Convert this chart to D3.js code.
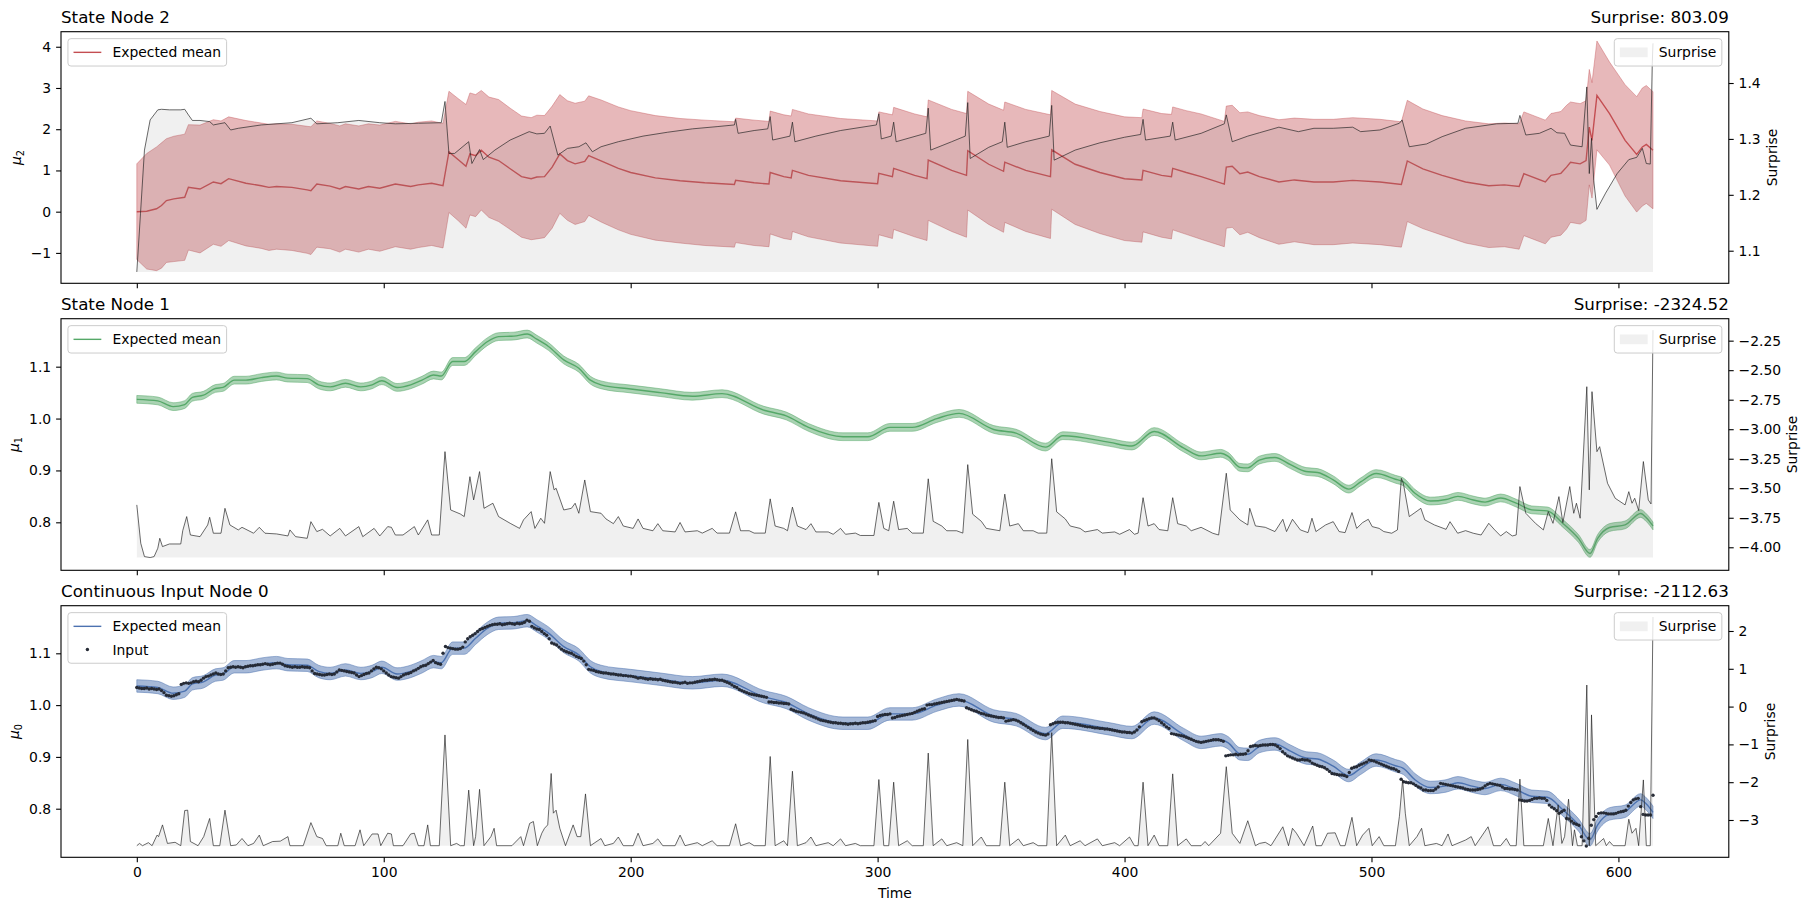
<!DOCTYPE html>
<html>
<head>
<meta charset="utf-8">
<script src="https://cdn.jsdelivr.net/npm/d3@7/dist/d3.min.js"></script>
<style>
  body { margin: 0; background: #fff; }
  text { font-family: "DejaVu Sans", sans-serif; fill: #000; }
</style>
</head>
<body>
<svg id="chart" width="1811" height="911"></svg>
<script>
//
// Data
//

// time axis
const TIME_TICKS = [0, 100, 200, 300, 400, 500, 600];
const TIME_END = 614;

// State Node 2: [time, expected mean, sd]
const node2Belief = [
  [0, 0.00, 1.16], [4, 0.01, 1.40], [8, 0.07, 1.50], [10, 0.15, 1.52], [12, 0.27, 1.50],
  [15, 0.31, 1.52], [19.4, 0.35, 1.53], [20.9, 0.59, 1.52], [25.6, 0.55, 1.55], [31, 0.72, 1.51],
  [34.1, 0.68, 1.52], [37.2, 0.80, 1.50], [44.2, 0.69, 1.52], [50.4, 0.63, 1.52], [53.5, 0.59, 1.53],
  [56.6, 0.61, 1.52], [62.8, 0.59, 1.53], [69, 0.53, 1.54], [70.5, 0.51, 1.55], [72.9, 0.67, 1.53],
  [78.3, 0.62, 1.52], [82.2, 0.55, 1.53], [84.5, 0.61, 1.52], [89.9, 0.55, 1.53], [93.8, 0.61, 1.52],
  [98.4, 0.57, 1.53], [104.7, 0.67, 1.52], [110.9, 0.61, 1.52], [114, 0.65, 1.52], [119.4, 0.69, 1.51],
  [124, 0.63, 1.51], [126.4, 1.45, 1.47], [130.2, 1.26, 1.48], [133.3, 1.10, 1.50], [134.9, 1.40, 1.48],
  [137.2, 1.36, 1.48], [139.5, 1.49, 1.45], [142.6, 1.32, 1.46], [146.5, 1.24, 1.48], [151.2, 1.04, 1.47],
  [155.8, 0.85, 1.47], [159.7, 0.80, 1.48], [162, 0.84, 1.50], [165.1, 0.85, 1.48], [168.2, 1.08, 1.48],
  [171.3, 1.40, 1.44], [174.4, 1.24, 1.45], [177.5, 1.16, 1.47], [181.4, 1.22, 1.46], [183, 1.36, 1.45],
  [188, 1.23, 1.48], [195, 1.05, 1.49], [200, 0.95, 1.50], [210, 0.82, 1.51], [220, 0.75, 1.51],
  [230, 0.70, 1.52], [242, 0.66, 1.52], [242.5, 0.76, 1.51], [250, 0.70, 1.52], [256, 0.67, 1.52],
  [256.5, 0.95, 1.49], [262, 0.85, 1.50], [265, 0.82, 1.50], [265.5, 1.00, 1.48], [272, 0.88, 1.49],
  [285, 0.75, 1.51], [300, 0.68, 1.52], [300.5, 0.93, 1.49], [306, 0.85, 1.50], [306.5, 1.05, 1.48],
  [315, 0.88, 1.49], [320, 0.80, 1.50], [320.5, 1.25, 1.46], [330, 1.00, 1.48], [336, 0.88, 1.50],
  [336.5, 1.48, 1.44], [345, 1.15, 1.46], [351, 0.98, 1.48], [351.5, 1.20, 1.46], [360, 1.00, 1.48],
  [370, 0.85, 1.50], [370.5, 1.50, 1.44], [380, 1.15, 1.46], [390, 0.95, 1.48], [400, 0.80, 1.50],
  [407, 0.77, 1.51], [407.5, 1.00, 1.49], [415, 0.88, 1.50], [419, 0.85, 1.51], [419.5, 1.05, 1.49],
  [425, 0.95, 1.50], [431, 0.85, 1.52], [440.4, 0.67, 1.52],
  [441.2, 1.08, 1.48], [443.6, 1.10, 1.48], [446.7, 0.92, 1.48], [449.9, 0.96, 1.46], [454.6, 0.85, 1.48],
  [462.5, 0.72, 1.51], [468.8, 0.77, 1.50], [476.7, 0.72, 1.52], [484.5, 0.72, 1.52], [492.4, 0.76, 1.52],
  [503.4, 0.72, 1.52], [512.1, 0.66, 1.52], [514.5, 1.23, 1.47], [520.8, 1.04, 1.45], [528.6, 0.88, 1.45],
  [538.1, 0.72, 1.48], [547.5, 0.63, 1.50], [553.8, 0.65, 1.50], [559.8, 0.61, 1.52], [561.7, 0.92, 1.50],
  [570.4, 0.72, 1.50], [572.7, 0.88, 1.50], [576.7, 0.93, 1.50], [579, 1.08, 1.50], [580.6, 1.20, 1.46],
  [584.5, 1.16, 1.46], [586.9, 1.24, 1.45], [588.2, 2.05, 1.40], [589.3, 1.73, 1.40], [591.3, 2.82, 1.32],
  [596.4, 2.38, 1.25], [602.7, 1.73, 1.35], [607.4, 1.39, 1.40], [609.7, 1.57, 1.43], [611.3, 1.63, 1.43],
  [614, 1.49, 1.42]
];

// State Node 2: [time, surprise]
const node2Surprise = [
  [0, 1.062], [1.5, 1.167], [3.1, 1.28], [5.4, 1.334], [8.5, 1.352], [10, 1.353], [13.2, 1.352],
  [17.8, 1.352], [19.4, 1.353], [20.9, 1.343], [22.5, 1.333], [25.6, 1.333], [29.5, 1.331], [31, 1.325],
  [33.3, 1.327], [35.7, 1.329], [38, 1.316], [41.1, 1.319], [50.4, 1.325], [62.8, 1.329], [70.5, 1.337],
  [72.9, 1.327], [81.4, 1.329], [89.9, 1.333], [98.4, 1.329], [104.7, 1.327], [114, 1.328], [123.3, 1.329],
  [124.8, 1.367], [126.4, 1.274], [128.7, 1.274], [134.4, 1.295], [135.7, 1.256], [138.8, 1.281],
  [140.3, 1.263], [145, 1.28], [151.2, 1.298], [158.9, 1.313], [162, 1.309], [165.1, 1.31], [167.4, 1.323],
  [170.5, 1.271], [174.4, 1.283], [179, 1.286], [181.9, 1.293], [184.5, 1.277], [188, 1.286],
  [195, 1.295], [205, 1.305], [215, 1.312], [225, 1.318], [235, 1.322], [242, 1.325], [242.5, 1.335],
  [243.5, 1.31], [250, 1.315], [255.5, 1.318], [256.5, 1.34], [257.5, 1.298], [264.5, 1.305],
  [265.5, 1.33], [266.5, 1.295], [275, 1.305], [285, 1.315], [299.5, 1.325], [300.5, 1.345],
  [301.5, 1.30], [305.5, 1.305], [306.5, 1.33], [307.5, 1.295], [319.5, 1.31], [320.5, 1.355],
  [321.5, 1.28], [330, 1.295], [335.5, 1.305], [336.5, 1.365], [337.5, 1.265], [345, 1.285],
  [350.5, 1.295], [351.5, 1.33], [352.5, 1.285], [360, 1.295], [369.5, 1.305], [370.5, 1.36],
  [371.5, 1.262], [380, 1.28], [390, 1.293], [400, 1.303], [406.5, 1.308], [407.5, 1.335],
  [408.5, 1.298], [418.5, 1.305], [419.5, 1.33], [420.5, 1.298], [431, 1.31], [440.4, 1.327],
  [441.2, 1.343], [443.6, 1.295], [449.9, 1.305], [454.6, 1.311], [462.5, 1.321], [470.4, 1.313],
  [476.7, 1.319], [484.5, 1.319], [492.4, 1.321], [495.6, 1.313], [503.4, 1.316], [511.3, 1.328],
  [512.4, 1.334], [515.3, 1.286], [522.3, 1.291], [528.6, 1.304], [538.1, 1.319], [550.7, 1.327],
  [559.3, 1.328], [560.1, 1.342], [562.5, 1.307], [568, 1.31], [572.7, 1.319], [575.1, 1.311],
  [578.2, 1.31], [580.6, 1.289], [585.3, 1.286], [587.2, 1.393], [588.2, 1.238], [589.1, 1.301],
  [590, 1.226], [591.3, 1.174], [594.8, 1.203], [599.5, 1.238], [604.2, 1.263], [607.4, 1.267],
  [609.7, 1.283], [611.3, 1.256], [612.9, 1.255], [613.7, 1.435], [614, 1.471]
];

// State Node 1 / Input Node 0 expected mean: [time, mean]
const stateMean = [
  [0, 1.037], [8.5, 1.034], [14.7, 1.023], [19.4, 1.027], [22.5, 1.041], [27, 1.045], [31.8, 1.058],
  [34.9, 1.060], [39.5, 1.074], [44.2, 1.074], [50.4, 1.079], [56.6, 1.082], [61.2, 1.078], [69, 1.077],
  [73.6, 1.065], [78.3, 1.061], [84.5, 1.068], [90.7, 1.061], [95.3, 1.065], [99.2, 1.073], [105.4, 1.060],
  [110.9, 1.065], [115.5, 1.074], [120.2, 1.084], [123.3, 1.082], [127.9, 1.110], [132.6, 1.110],
  [137.2, 1.129], [141.9, 1.148], [146.5, 1.158], [152.7, 1.159], [158.1, 1.163], [162, 1.153],
  [166.7, 1.139], [172.9, 1.113], [179, 1.097], [183.7, 1.074], [188, 1.065], [200, 1.057], [212, 1.050],
  [225, 1.043], [237, 1.048], [254, 1.016], [263, 1.005], [272, 0.983], [286, 0.965], [296, 0.965],
  [305, 0.983], [314, 0.983], [324, 1.000], [333, 1.010], [347, 0.979], [356, 0.972], [368, 0.945],
  [375, 0.967], [394, 0.954], [403, 0.947], [412, 0.975], [424, 0.943], [431, 0.928], [438.9, 0.933],
  [442, 0.927], [446.7, 0.906], [449.9, 0.905], [454.6, 0.920], [460.9, 0.925], [467.2, 0.911],
  [473.5, 0.898], [478.2, 0.896], [484.5, 0.882], [490.8, 0.864], [495.6, 0.878], [501.9, 0.894],
  [509.7, 0.883], [512.9, 0.878], [517.6, 0.856], [523.9, 0.841], [530.2, 0.844], [535, 0.850],
  [541.2, 0.843], [546, 0.839], [552.3, 0.847], [558.6, 0.837], [564.9, 0.824], [571.2, 0.822],
  [577.5, 0.798], [583.8, 0.769], [588.5, 0.740], [591.6, 0.769], [596.4, 0.790], [602.7, 0.795],
  [609, 0.817], [611.3, 0.809], [614, 0.793]
];
const NODE1_SD = 0.0075;
const NODE0_SD = 0.012;

// Continuous Input Node 0: observed input, one value per time step (0..614)
const inputValues = [
  1.034, 1.033, 1.032, 1.032, 1.033, 1.031, 1.032, 1.031, 1.030, 1.031,
  1.028, 1.024, 1.019, 1.018, 1.017, 1.018, 1.020, 1.022, 1.040, 1.042,
  1.043, 1.042, 1.043, 1.045, 1.046, 1.045, 1.048, 1.052, 1.055, 1.056,
  1.058, 1.060, 1.062, 1.060, 1.059, 1.060, 1.066, 1.072, 1.073, 1.074,
  1.073, 1.074, 1.073, 1.072, 1.074, 1.075, 1.076, 1.076, 1.077, 1.078,
  1.078, 1.079, 1.080, 1.079, 1.078, 1.079, 1.080, 1.081, 1.081, 1.079,
  1.076, 1.075, 1.074, 1.073, 1.074, 1.073, 1.073, 1.074, 1.073, 1.073,
  1.072, 1.066, 1.061, 1.060, 1.059, 1.058, 1.058, 1.059, 1.060, 1.059,
  1.060, 1.064, 1.068, 1.067, 1.066, 1.065, 1.064, 1.063, 1.062, 1.058,
  1.055, 1.057, 1.059, 1.061, 1.062, 1.066, 1.070, 1.073, 1.072, 1.070,
  1.066, 1.062, 1.058, 1.055, 1.054, 1.053, 1.052, 1.055, 1.058, 1.060,
  1.061, 1.063, 1.066, 1.068, 1.071, 1.074, 1.076, 1.077, 1.080, 1.083,
  1.086, 1.082, 1.080, 1.079, 1.100, 1.113, 1.111, 1.110, 1.109, 1.108,
  1.108, 1.109, 1.112, 1.122, 1.128, 1.132, 1.135, 1.138, 1.142, 1.146,
  1.148, 1.150, 1.152, 1.154, 1.155, 1.156, 1.156, 1.157, 1.155, 1.156,
  1.157, 1.158, 1.157, 1.156, 1.158, 1.157, 1.158, 1.160, 1.164, 1.162,
  1.152, 1.149, 1.147, 1.146, 1.142, 1.138, 1.135, 1.128, 1.120, 1.118,
  1.116, 1.112, 1.108, 1.105, 1.103, 1.101, 1.100, 1.097, 1.094, 1.092,
  1.090, 1.085, 1.078, 1.069, 1.068, 1.067, 1.065, 1.064, 1.063, 1.062,
  1.062, 1.061, 1.060, 1.060, 1.059, 1.058, 1.058, 1.057, 1.057, 1.056,
  1.056, 1.055, 1.054, 1.052, 1.053, 1.052, 1.051, 1.050, 1.051, 1.050,
  1.050, 1.049, 1.050, 1.048, 1.047, 1.046, 1.045, 1.044, 1.044, 1.043,
  1.042, 1.043, 1.044, 1.042, 1.043, 1.043, 1.044, 1.045, 1.046, 1.047,
  1.048, 1.048, 1.049, 1.049, 1.050, 1.049, 1.048, 1.048, 1.046, 1.044,
  1.042, 1.039, 1.036, 1.034, 1.030, 1.028, 1.026, 1.024, 1.022, 1.021,
  1.020, 1.019, 1.018, 1.017, 1.016, 1.015, 1.006, 1.006, 1.005, 1.005,
  1.004, 1.004, 1.003, 1.003, 1.002, 0.992, 0.990, 0.988, 0.987, 0.986,
  0.985, 0.983, 0.981, 0.979, 0.977, 0.975, 0.973, 0.971, 0.970, 0.969,
  0.968, 0.967, 0.966, 0.966, 0.965, 0.965, 0.964, 0.964, 0.963, 0.964,
  0.964, 0.965, 0.964, 0.965, 0.966, 0.966, 0.967, 0.968, 0.969, 0.970,
  0.978, 0.980, 0.981, 0.982, 0.982, 0.983, 0.975, 0.976, 0.978, 0.979,
  0.980, 0.981, 0.982, 0.983, 0.984, 0.986, 0.988, 0.990, 0.992, 0.993,
  1.000, 1.001, 1.001, 1.002, 1.003, 1.004, 1.005, 1.006, 1.007, 1.008,
  1.009, 1.010, 1.011, 1.010, 1.009, 1.008, 0.995, 0.993, 0.991, 0.989,
  0.988, 0.986, 0.984, 0.983, 0.981, 0.980, 0.979, 0.978, 0.977, 0.976,
  0.976, 0.975, 0.969, 0.970, 0.971, 0.972, 0.971, 0.969, 0.966, 0.963,
  0.960, 0.957, 0.954, 0.951, 0.948, 0.946, 0.944, 0.943, 0.942, 0.944,
  0.962, 0.964, 0.966, 0.967, 0.967, 0.967, 0.966, 0.966, 0.965, 0.964,
  0.963, 0.962, 0.961, 0.960, 0.959, 0.958, 0.958, 0.957, 0.956, 0.956,
  0.955, 0.955, 0.954, 0.954, 0.953, 0.952, 0.951, 0.950, 0.949, 0.948,
  0.948, 0.947, 0.947, 0.946, 0.948, 0.952, 0.958, 0.968, 0.970, 0.972,
  0.974, 0.975, 0.975, 0.973, 0.970, 0.966, 0.962, 0.958, 0.955, 0.945,
  0.944, 0.943, 0.942, 0.941, 0.940, 0.938, 0.936, 0.934, 0.932, 0.930,
  0.929, 0.928, 0.929, 0.930, 0.931, 0.932, 0.933, 0.933, 0.933, 0.932,
  0.930, 0.902, 0.903, 0.904, 0.904, 0.905, 0.904, 0.905, 0.905, 0.906,
  0.912, 0.920, 0.921, 0.922, 0.921, 0.922, 0.923, 0.923, 0.923, 0.924,
  0.924, 0.923, 0.920, 0.916, 0.910, 0.906, 0.902, 0.900, 0.898, 0.896,
  0.894, 0.894, 0.895, 0.894, 0.894, 0.892, 0.888, 0.886, 0.884, 0.882,
  0.881, 0.879, 0.876, 0.872, 0.868, 0.867, 0.866, 0.865, 0.865, 0.864,
  0.862, 0.870, 0.878, 0.880, 0.881, 0.884, 0.886, 0.888, 0.890, 0.894,
  0.893, 0.892, 0.890, 0.888, 0.886, 0.884, 0.882, 0.880, 0.878, 0.877,
  0.875, 0.872, 0.857, 0.852, 0.851, 0.850, 0.850, 0.848, 0.845, 0.842,
  0.840, 0.836, 0.836, 0.835, 0.835, 0.835, 0.838, 0.842, 0.849, 0.848,
  0.847, 0.846, 0.845, 0.844, 0.843, 0.842, 0.841, 0.840, 0.838, 0.837,
  0.836, 0.836, 0.836, 0.837, 0.838, 0.840, 0.844, 0.847, 0.849, 0.848,
  0.847, 0.846, 0.845, 0.842, 0.839, 0.839, 0.838, 0.838, 0.837, 0.836,
  0.817, 0.816, 0.815, 0.815, 0.816, 0.818, 0.820, 0.820, 0.821, 0.820,
  0.820, 0.816, 0.807, 0.803, 0.800, 0.796, 0.791, 0.794, 0.797, 0.781,
  0.780, 0.776, 0.772, 0.770, 0.768, 0.746, 0.738, 0.728, 0.743, 0.768,
  0.779, 0.785, 0.791, 0.792, 0.792, 0.791, 0.790, 0.790, 0.790, 0.791,
  0.793, 0.794, 0.795, 0.797, 0.805, 0.812, 0.817, 0.819, 0.820, 0.804,
  0.789, 0.788, 0.788, 0.788, 0.826
];

// State Node 1: [time, surprise]
const node1Surprise = [
  [0, -3.641], [1.6, -3.966], [3.1, -4.079], [5.4, -4.087], [7, -4.079], [8.5, -4.008], [9.3, -3.924],
  [10.4, -3.994], [13.2, -3.972], [17.8, -3.972], [18.6, -3.859], [20.2, -3.74], [21.7, -3.896],
  [25.6, -3.91], [28.7, -3.811], [29.5, -3.746], [31, -3.881], [34.1, -3.881], [35.7, -3.67],
  [37.7, -3.811], [41.1, -3.853], [42.6, -3.831], [47.3, -3.881], [49.6, -3.831], [51.9, -3.881],
  [56.6, -3.887], [61.2, -3.904], [62, -3.853], [64.3, -3.91], [69, -3.924], [70.5, -3.783],
  [72.9, -3.867], [75.2, -3.848], [78.3, -3.904], [82.2, -3.84], [84.5, -3.904], [89.9, -3.825],
  [91.5, -3.91], [96.1, -3.84], [98.4, -3.904], [101.6, -3.825], [103.1, -3.831], [104.7, -3.896],
  [107.8, -3.896], [112.4, -3.825], [114, -3.896], [117.8, -3.768], [119.4, -3.896], [122.5, -3.896],
  [124.8, -3.19], [127.1, -3.684], [131, -3.718], [132.6, -3.74], [134.9, -3.402], [136.4, -3.599],
  [138.8, -3.359], [140.6, -3.67], [144.2, -3.627], [146.5, -3.74], [151.2, -3.797], [155, -3.84],
  [156.6, -3.768], [159.7, -3.698], [161.2, -3.84], [163.6, -3.754], [165.1, -3.797], [167.4, -3.359],
  [169, -3.514], [169.8, -3.5], [172.9, -3.684], [176, -3.67], [177.5, -3.627], [179, -3.712],
  [181.4, -3.43], [183.7, -3.698], [188, -3.712], [190, -3.76], [193, -3.80], [195, -3.74], [197, -3.82],
  [201, -3.84], [203, -3.76], [205, -3.84], [209, -3.86], [211, -3.80], [213, -3.86], [218, -3.87],
  [220, -3.79], [222, -3.87], [227, -3.86], [229, -3.88], [233, -3.84], [235, -3.88], [240, -3.88],
  [242.5, -3.70], [244.5, -3.86], [248, -3.86], [250, -3.88], [254.5, -3.88], [256.5, -3.59],
  [258.5, -3.82], [262, -3.84], [263.5, -3.86], [265.5, -3.66], [267.5, -3.82], [271, -3.85],
  [273, -3.80], [275, -3.87], [280, -3.87], [282, -3.89], [285, -3.84], [287, -3.89], [291, -3.88],
  [293, -3.90], [298.5, -3.90], [300.5, -3.62], [302.5, -3.84], [304.5, -3.86], [306.5, -3.61],
  [308.5, -3.85], [312, -3.84], [314, -3.88], [318.5, -3.88], [320.5, -3.42], [322.5, -3.78],
  [326, -3.82], [328, -3.86], [332, -3.86], [334.5, -3.88], [336.5, -3.30], [338.5, -3.72],
  [342, -3.78], [344, -3.84], [349.5, -3.86], [351.5, -3.55], [353.5, -3.82], [357, -3.80],
  [359, -3.86], [363, -3.86], [365, -3.88], [368.5, -3.88], [370.5, -3.25], [372.5, -3.70],
  [376, -3.76], [378, -3.82], [382, -3.84], [384, -3.87], [389, -3.85], [391, -3.88], [396, -3.87],
  [398, -3.89], [402, -3.85], [404, -3.89], [405.5, -3.88], [407.5, -3.58], [409.5, -3.82],
  [412, -3.80], [414, -3.85], [417.5, -3.86], [419.5, -3.58], [421.5, -3.80], [425, -3.82],
  [427, -3.86], [431, -3.831], [435.7, -3.881], [438.1, -3.896], [441.2, -3.373], [442.8, -3.684], [446.7, -3.768],
  [449.9, -3.811], [450.7, -3.67], [453, -3.819], [457, -3.831], [460.9, -3.867], [464.1, -3.763],
  [465.6, -3.867], [468, -3.763], [471.2, -3.853], [474.3, -3.876], [475.9, -3.754], [477.5, -3.867],
  [481.4, -3.811], [484.5, -3.783], [486.9, -3.867], [489.3, -3.876], [492.1, -3.706], [494, -3.84],
  [496.4, -3.791], [498.7, -3.763], [500.3, -3.825], [503.1, -3.84], [505, -3.867], [508.2, -3.881],
  [510.5, -3.853], [512.1, -3.416], [512.9, -3.458], [515.3, -3.74], [517.6, -3.706], [520, -3.67],
  [521.6, -3.768], [525.5, -3.811], [530.2, -3.848], [531.8, -3.783], [534.9, -3.881], [538.1, -3.859],
  [541.2, -3.881], [544.4, -3.896], [547.5, -3.797], [549.9, -3.853], [552.3, -3.904], [554.6, -3.867],
  [557, -3.904], [558.6, -3.896], [560.1, -3.486], [562.5, -3.712], [566.4, -3.797], [569.6, -3.853],
  [571.6, -3.698], [573.5, -3.797], [575.9, -3.571], [577.5, -3.791], [580.3, -3.486], [581.9, -3.712],
  [583, -3.627], [584.5, -3.754], [587.2, -2.64], [588.2, -3.514], [589.3, -2.682], [591.3, -3.19],
  [592.4, -3.148], [595.6, -3.458], [598.7, -3.585], [602.7, -3.641], [604.2, -3.529], [605.5, -3.627],
  [606.6, -3.585], [608.2, -3.689], [610.1, -3.274], [612.1, -3.599], [613.2, -3.633], [614, -2.161]
];

// Continuous Input Node 0: [time, surprise]
const node0Surprise = [
  [0, -3.68], [1.1, -3.62], [2.3, -3.68], [4.7, -3.60], [6.2, -3.68], [8.2, -3.40], [8.8, -3.44],
  [10.4, -3.13], [12.4, -3.62], [15.5, -3.59], [17.8, -3.68], [19.4, -2.75], [20.6, -2.74], [21.7, -3.57],
  [24.8, -3.68], [27.1, -3.44], [29.5, -2.96], [31, -3.68], [33.6, -3.68], [35.7, -2.74], [38, -3.68],
  [40.3, -3.66], [42.6, -3.49], [45, -3.68], [47.3, -3.62], [49.6, -3.40], [51.2, -3.68], [55, -3.57],
  [58.1, -3.56], [61.2, -3.44], [62, -3.68], [67.4, -3.68], [70.5, -3.07], [72.9, -3.44], [75.2, -3.49],
  [76.7, -3.68], [81.4, -3.68], [82.6, -3.35], [84, -3.68], [88.4, -3.68], [90.4, -3.26], [91.9, -3.68],
  [95.3, -3.37], [97.7, -3.37], [98.8, -3.68], [101.6, -3.35], [103.1, -3.37], [103.9, -3.68],
  [107.8, -3.68], [110.9, -3.37], [112.4, -3.35], [114, -3.68], [116.3, -3.68], [117.8, -3.13],
  [118.9, -3.68], [122.5, -3.68], [124.8, -0.75], [127.1, -3.68], [129.5, -3.62], [131, -3.68],
  [132.6, -3.68], [134.4, -2.21], [136.4, -3.68], [137.2, -3.44], [138.8, -2.19], [140.6, -3.68],
  [143.4, -3.44], [144.7, -3.22], [145.7, -3.68], [151.9, -3.68], [155.5, -3.44], [156.6, -3.68],
  [159.1, -3.09], [160.6, -3.04], [162.2, -3.68], [164, -3.35], [165.1, -3.22], [166.4, -3.13],
  [167.8, -1.77], [168.7, -2.82], [169.8, -2.74], [171.3, -3.22], [173.6, -3.68], [176.7, -3.13],
  [178.3, -3.44], [179.8, -3.44], [181.7, -2.31], [183.7, -3.68], [188, -3.49], [189.5, -3.68],
  [193, -3.62], [195, -3.45], [197, -3.68], [201, -3.68], [203, -3.35], [205, -3.68], [209, -3.62],
  [211, -3.50], [213, -3.68], [218, -3.68], [220, -3.40], [222, -3.68], [227, -3.60], [229, -3.68],
  [233, -3.55], [235, -3.68], [240, -3.68], [242.5, -3.10], [244.5, -3.68], [248, -3.60], [250, -3.68],
  [254.5, -3.68], [256.5, -1.32], [258.5, -3.68], [262, -3.55], [263.5, -3.68], [265.5, -1.71],
  [267.5, -3.68], [271, -3.60], [273, -3.45], [275, -3.68], [280, -3.60], [282, -3.68], [285, -3.50],
  [287, -3.68], [291, -3.62], [293, -3.68], [298.5, -3.68], [300.5, -1.93], [302.5, -3.68],
  [304.5, -3.68], [306.5, -2.00], [308.5, -3.68], [312, -3.55], [314, -3.68], [318.5, -3.68],
  [320.5, -1.23], [322.5, -3.68], [326, -3.50], [328, -3.68], [332, -3.60], [334.5, -3.68],
  [336.5, -0.87], [338.5, -3.68], [342, -3.45], [344, -3.68], [349.5, -3.68], [351.5, -2.00],
  [353.5, -3.68], [357, -3.50], [359, -3.68], [363, -3.60], [365, -3.68], [368.5, -3.68],
  [370.5, -0.69], [372.5, -3.68], [376, -3.40], [378, -3.68], [382, -3.55], [384, -3.68], [389, -3.50],
  [391, -3.68], [396, -3.60], [398, -3.68], [402, -3.45], [404, -3.68], [405.5, -3.68], [407.5, -2.00],
  [409.5, -3.68], [412, -3.40], [414, -3.68], [417.5, -3.68], [419.5, -1.78], [421.5, -3.68],
  [425, -3.50], [427, -3.68], [431, -3.68], [432.6, -3.57], [434.1, -3.68], [438.9, -3.35], [441.2, -1.59],
  [443.6, -3.35], [446.7, -3.62], [449.9, -3.02], [453, -3.68], [454.6, -3.62], [457, -3.59],
  [459.3, -3.68], [464.1, -3.18], [466.4, -3.68], [468, -3.22], [469.6, -3.35], [472.7, -3.68],
  [476.2, -3.16], [477.5, -3.68], [479.8, -3.68], [482.2, -3.35], [485.3, -3.34], [487.4, -3.68],
  [489.3, -3.68], [492.1, -2.93], [494, -3.68], [496.4, -3.40], [499, -3.22], [500.3, -3.68],
  [503.1, -3.44], [505, -3.68], [509.7, -3.68], [511.3, -2.91], [512.6, -1.94], [513.7, -2.82],
  [515.3, -3.68], [518.4, -3.44], [520.3, -3.22], [521.6, -3.68], [526.3, -3.62], [528.6, -3.68],
  [531, -3.37], [532.6, -3.68], [538.1, -3.53], [540.4, -3.44], [542, -3.68], [547.2, -3.18],
  [549.4, -3.68], [552.3, -3.68], [554.6, -3.49], [556.2, -3.68], [558.6, -3.68], [560.1, -1.92],
  [561.7, -3.68], [569.6, -3.68], [571.6, -2.96], [573.5, -3.68], [575.6, -2.60], [577.1, -3.62],
  [578.2, -3.44], [579.8, -2.45], [581.4, -3.68], [582.2, -3.26], [583.4, -3.68], [585.3, -3.68],
  [587.2, 0.57], [588.2, -3.68], [589.1, -0.22], [590.8, -3.68], [594, -3.49], [595.1, -3.68],
  [596.4, -3.57], [597.9, -3.68], [602.7, -3.68], [604.2, -2.98], [605.5, -3.35], [607.1, -3.22],
  [608.2, -3.68], [610.1, -1.94], [611.3, -3.68], [612.9, -3.68], [614, 2.37]
];

// axis ticks
const NODE2_TICKS = [-1, 0, 1, 2, 3, 4];
const NODE2_SURPRISE_TICKS = [1.1, 1.2, 1.3, 1.4];
const NODE1_TICKS = [0.8, 0.9, 1.0, 1.1];
const NODE1_SURPRISE_TICKS = [-4.0, -3.75, -3.5, -3.25, -3.0, -2.75, -2.5, -2.25];
const NODE0_TICKS = [0.8, 0.9, 1.0, 1.1];
const NODE0_SURPRISE_TICKS = [-3, -2, -1, 0, 1, 2];

//
// Layout
//

const svg = d3.select('#chart');

const AX_LEFT = 61;
const AX_RIGHT = 1728.8;
const PANEL_TOPS = [31.7, 318.7, 605.7];
const PANEL_HEIGHT = 251.6;

const FS_TICK = 13.9;
const FS_TITLE = 16.7;
const TICK_LEN = 4.9;
const TICK_PAD = 4.9;

const DOT_R = 1.7;
const DOT_COLOR = '#262b36';

const minus = (s) => s.replace(/-/g, '\u2212');

const x = d3
  .scaleLinear()
  .domain([-0.05 * TIME_END, TIME_END * 1.05])
  .range([AX_LEFT, AX_RIGHT]);

const panels = [
  {
    title: 'State Node 2',
    surpriseTitle: 'Surprise: 803.09',
    sub: '2',
    yDomain: [-1.737, 4.365],
    sDomain: [1.0417, 1.4918],
    yTicks: NODE2_TICKS,
    sTicks: NODE2_SURPRISE_TICKS,
    yFmt: (d) => minus(d3.format('d')(d)),
    sFmt: (d) => d3.format('.1f')(d),
    color: '#c44e52',
    bandOpacity: 0.4,
    band: node2Belief.map((r) => ({ t: r[0], m: r[1], lo: r[1] - r[2], hi: r[1] + r[2] })),
    curve: d3.curveLinear,
    surprise: node2Surprise,
    input: null,
  },
  {
    title: 'State Node 1',
    surpriseTitle: 'Surprise: -2324.52',
    sub: '1',
    yDomain: [0.7075, 1.1925],
    sDomain: [-4.195, -2.064],
    yTicks: NODE1_TICKS,
    sTicks: NODE1_SURPRISE_TICKS,
    yFmt: (d) => d3.format('.1f')(d),
    sFmt: (d) => minus(d3.format('.2f')(d)),
    color: '#55a868',
    bandOpacity: 0.5,
    band: stateMean.map((r) => ({ t: r[0], m: r[1], lo: r[1] - NODE1_SD, hi: r[1] + NODE1_SD })),
    curve: d3.curveMonotoneX,
    surprise: node1Surprise,
    input: null,
  },
  {
    title: 'Continuous Input Node 0',
    surpriseTitle: 'Surprise: -2112.63',
    sub: '0',
    yDomain: [0.7062, 1.1919],
    sDomain: [-3.987, 2.669],
    yTicks: NODE0_TICKS,
    sTicks: NODE0_SURPRISE_TICKS,
    yFmt: (d) => d3.format('.1f')(d),
    sFmt: (d) => minus(d3.format('d')(d)),
    color: '#4c72b0',
    bandOpacity: 0.5,
    band: stateMean.map((r) => ({ t: r[0], m: r[1], lo: r[1] - NODE0_SD, hi: r[1] + NODE0_SD })),
    curve: d3.curveMonotoneX,
    surprise: node0Surprise,
    input: inputValues,
  },
];

//
// Legend helper (matplotlib-like box)
//

function drawLegend(g, items, side, top) {
  const fs = 13.9;
  const pad = 0.4 * fs;
  const handleLen = 2 * fs;
  const handleGap = 0.8 * fs;
  const rowGap = 0.5 * fs;
  const rowH = fs * 1.17;
  const axPad = 0.5 * fs;

  const lg = g.append('g');
  const box = lg.append('rect');

  const labels = items.map((it) =>
    lg.append('text').attr('font-size', fs).attr('dy', '0.36em').text(it.label),
  );
  const textW = d3.max(labels, (l) => l.node().getComputedTextLength());

  const w = pad * 2 + handleLen + handleGap + textW;
  const h = pad * 2 + items.length * rowH + (items.length - 1) * rowGap;
  const x0 = side === 'left' ? AX_LEFT + axPad : AX_RIGHT - axPad - w;
  const y0 = top + axPad;

  box
    .attr('x', x0)
    .attr('y', y0)
    .attr('width', w)
    .attr('height', h)
    .attr('rx', 3)
    .attr('fill', '#fff')
    .attr('fill-opacity', 0.8)
    .attr('stroke', '#cccccc')
    .attr('stroke-width', 1);

  items.forEach((it, i) => {
    const cy = y0 + pad + i * (rowH + rowGap) + rowH / 2;
    const hx = x0 + pad;
    if (it.kind === 'line') {
      lg.append('line')
        .attr('x1', hx)
        .attr('x2', hx + handleLen)
        .attr('y1', cy)
        .attr('y2', cy)
        .attr('stroke', it.color)
        .attr('stroke-width', 1.4);
    } else if (it.kind === 'dot') {
      lg.append('circle')
        .attr('cx', hx + handleLen / 2)
        .attr('cy', cy)
        .attr('r', DOT_R)
        .attr('fill', DOT_COLOR);
    } else {
      lg.append('rect')
        .attr('x', hx)
        .attr('y', cy - 0.35 * fs)
        .attr('width', handleLen)
        .attr('height', 0.7 * fs)
        .attr('fill', '#808080')
        .attr('fill-opacity', 0.12);
    }
    labels[i].attr('x', hx + handleLen + handleGap).attr('y', cy);
  });
}

//
// Panels
//

panels.forEach((p, idx) => {
  const top = PANEL_TOPS[idx];
  const bottom = top + PANEL_HEIGHT;

  const y = d3.scaleLinear().domain(p.yDomain).range([bottom, top]);
  const yS = d3.scaleLinear().domain(p.sDomain).range([bottom, top]);

  const g = svg.append('g');

  const clipId = `clip${idx}`;
  svg
    .append('clipPath')
    .attr('id', clipId)
    .append('rect')
    .attr('x', AX_LEFT)
    .attr('y', top)
    .attr('width', AX_RIGHT - AX_LEFT)
    .attr('height', PANEL_HEIGHT);

  const plot = g.append('g').attr('clip-path', `url(#${clipId})`);

  // belief band
  const band = d3
    .area()
    .curve(p.curve)
    .x((d) => x(d.t))
    .y0((d) => y(d.lo))
    .y1((d) => y(d.hi));

  plot
    .append('path')
    .datum(p.band)
    .attr('d', band)
    .attr('fill', p.color)
    .attr('fill-opacity', p.bandOpacity)
    .attr('stroke', p.color)
    .attr('stroke-opacity', p.bandOpacity)
    .attr('stroke-width', 1);

  // expected mean
  const meanLine = d3
    .line()
    .curve(p.curve)
    .x((d) => x(d.t))
    .y((d) => y(d.m));

  plot
    .append('path')
    .datum(p.band)
    .attr('d', meanLine)
    .attr('fill', 'none')
    .attr('stroke', p.color)
    .attr('stroke-width', 1.4);

  // input observations
  if (p.input) {
    plot
      .append('g')
      .selectAll('circle')
      .data(p.input)
      .join('circle')
      .attr('cx', (d, i) => x(i))
      .attr('cy', (d) => y(d))
      .attr('r', DOT_R)
      .attr('fill', DOT_COLOR);
  }

  // legends
  const leftItems = [{ label: 'Expected mean', kind: 'line', color: p.color }];
  if (p.input) leftItems.push({ label: 'Input', kind: 'dot' });
  drawLegend(g, leftItems, 'left', top);
  drawLegend(g, [{ label: 'Surprise', kind: 'patch' }], 'right', top);

  // surprise (twin axis)
  const sBase = d3.min(p.surprise, (d) => d[1]);

  const sArea = d3
    .area()
    .x((d) => x(d[0]))
    .y0(yS(sBase))
    .y1((d) => yS(d[1]));

  plot
    .append('path')
    .datum(p.surprise)
    .attr('d', sArea)
    .attr('fill', '#808080')
    .attr('fill-opacity', 0.12);

  plot
    .append('path')
    .datum(p.surprise)
    .attr(
      'd',
      d3
        .line()
        .x((d) => x(d[0]))
        .y((d) => yS(d[1])),
    )
    .attr('fill', 'none')
    .attr('stroke', '#222')
    .attr('stroke-opacity', 0.85)
    .attr('stroke-width', 0.8);

  // left y axis
  const yAxis = g
    .append('g')
    .attr('transform', `translate(${AX_LEFT},0)`)
    .call(
      d3
        .axisLeft(y)
        .tickValues(p.yTicks)
        .tickSize(TICK_LEN)
        .tickPadding(TICK_PAD)
        .tickFormat(p.yFmt),
    );

  // right y axis
  const sAxis = g
    .append('g')
    .attr('transform', `translate(${AX_RIGHT},0)`)
    .call(
      d3
        .axisRight(yS)
        .tickValues(p.sTicks)
        .tickSize(TICK_LEN)
        .tickPadding(TICK_PAD)
        .tickFormat(p.sFmt),
    );

  // x axis (tick marks on every panel, labels on the last)
  const xAxis = g
    .append('g')
    .attr('transform', `translate(0,${bottom})`)
    .call(
      d3
        .axisBottom(x)
        .tickValues(TIME_TICKS)
        .tickSize(TICK_LEN)
        .tickPadding(TICK_PAD)
        .tickFormat(idx === 2 ? d3.format('d') : () => ''),
    );

  [yAxis, sAxis, xAxis].forEach((a) => {
    a.select('.domain').remove();
    a.selectAll('line').attr('stroke', '#000').attr('stroke-width', 1.1);
    a.selectAll('text')
      .attr('font-size', FS_TICK)
      .attr('font-family', '"DejaVu Sans", sans-serif')
      .attr('fill', '#000');
  });

  // spines
  g.append('rect')
    .attr('x', AX_LEFT)
    .attr('y', top)
    .attr('width', AX_RIGHT - AX_LEFT)
    .attr('height', PANEL_HEIGHT)
    .attr('fill', 'none')
    .attr('stroke', '#000')
    .attr('stroke-width', 1.1);

  // titles
  g.append('text')
    .attr('x', AX_LEFT)
    .attr('y', top - 8.3)
    .attr('font-size', FS_TITLE)
    .text(p.title);

  g.append('text')
    .attr('x', AX_RIGHT)
    .attr('y', top - 8.3)
    .attr('text-anchor', 'end')
    .attr('font-size', FS_TITLE)
    .text(p.surpriseTitle);

  // y labels
  const cy = (top + bottom) / 2;
  const yBox = yAxis.node().getBBox();
  const muX = AX_LEFT + yBox.x - 5.6 - 0.3 * FS_TICK;
  const mu = g
    .append('text')
    .attr('transform', `translate(${muX},${cy}) rotate(-90)`)
    .attr('text-anchor', 'middle')
    .attr('font-size', FS_TICK);
  mu.append('tspan').attr('font-style', 'italic').text('\u03bc');
  mu.append('tspan').attr('font-size', FS_TICK * 0.7).attr('dy', '0.3em').text(p.sub);

  const sBox = sAxis.node().getBBox();
  const sx = AX_RIGHT + sBox.x + sBox.width + 5.6 + 0.76 * FS_TICK;
  g.append('text')
    .attr('transform', `translate(${sx},${cy}) rotate(-90)`)
    .attr('text-anchor', 'middle')
    .attr('font-size', FS_TICK)
    .text('Surprise');

  if (idx === 2) {
    g.append('text')
      .attr('x', (AX_LEFT + AX_RIGHT) / 2)
      .attr('y', bottom + 40.5)
      .attr('text-anchor', 'middle')
      .attr('font-size', FS_TICK)
      .text('Time');
  }
});
</script>
</body>
</html>
